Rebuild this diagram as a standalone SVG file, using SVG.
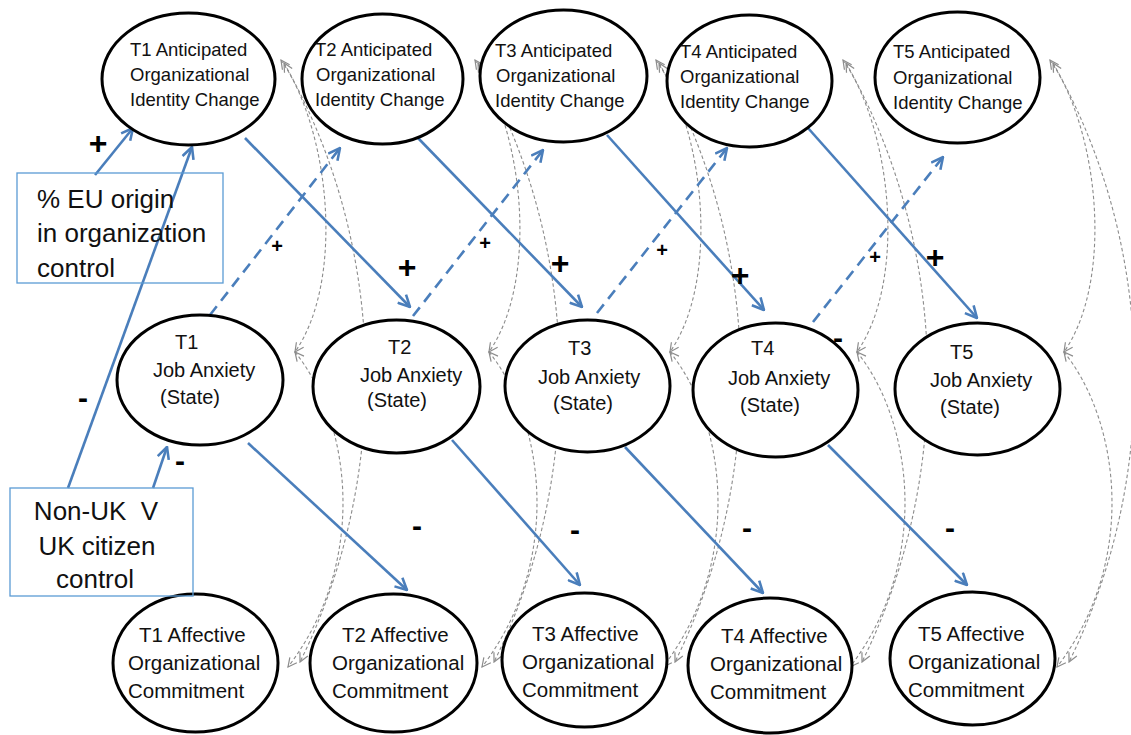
<svg xmlns="http://www.w3.org/2000/svg" width="1131" height="735" viewBox="0 0 1131 735">
<style>
.corr{fill:none;stroke:#8c8c8c;stroke-width:1.1;stroke-dasharray:3.5,2.5;marker-start:url(#ag);marker-end:url(#ag)}
.path{fill:none;stroke:#4a7ebb;stroke-width:2.6;marker-end:url(#ab)}
.dash{stroke-dasharray:11,7}
.node ellipse{fill:#fff;stroke:#000;stroke-width:3}
.box rect{fill:none;stroke:#5b9bd5;stroke-width:1.3}
.t{font-family:"Liberation Sans",Arial,sans-serif;fill:#111}
.top{font-size:18.5px}
.mid{font-size:20px}
.bot{font-size:20.5px}
.bx{font-size:26px}
.sg{font-family:"Liberation Sans",Arial,sans-serif;font-weight:bold;fill:#000;text-anchor:middle}
</style>
<defs>
<marker id="ab" viewBox="0 0 12 12" refX="11" refY="6" markerWidth="14" markerHeight="14" markerUnits="userSpaceOnUse" orient="auto"><path d="M1,1 L11,6 L1,11" fill="none" stroke="#4a7ebb" stroke-width="2.2"/></marker>
<marker id="ag" viewBox="0 0 10 10" refX="9" refY="5" markerWidth="11" markerHeight="11" markerUnits="userSpaceOnUse" orient="auto-start-reverse"><path d="M1,1 L9,5 L1,9" fill="none" stroke="#8c8c8c" stroke-width="1.1"/></marker>
</defs>
<rect width="1131" height="735" fill="#fff"/>

<g id="connectors">
<!-- column 1 correlations -->
<path class="corr" d="M281,60 C330,130 345,280 295,352"/>
<path class="corr" d="M284,63 C390,250 390,480 300,662"/>
<path class="corr" d="M295,352 C350,420 370,560 288,667"/>
<!-- column 2 -->
<path class="corr" d="M475,60 C524,130 539,280 489,352"/>
<path class="corr" d="M478,63 C584,250 584,480 494,662"/>
<path class="corr" d="M489,352 C544,420 564,560 482,667"/>
<!-- column 3 -->
<path class="corr" d="M656,60 C705,130 720,280 670,352"/>
<path class="corr" d="M659,63 C765,250 765,480 675,662"/>
<path class="corr" d="M670,352 C725,420 745,560 663,667"/>
<!-- column 4 -->
<path class="corr" d="M843,60 C892,130 907,280 857,352"/>
<path class="corr" d="M846,63 C952,250 952,480 862,662"/>
<path class="corr" d="M857,352 C912,420 932,560 850,667"/>
<!-- column 5 -->
<path class="corr" d="M1050,60 C1099,130 1114,280 1064,352"/>
<path class="corr" d="M1053,63 C1159,250 1159,480 1069,662"/>
<path class="corr" d="M1064,352 C1119,420 1139,560 1057,667"/>

<!-- structural paths -->
<line class="path" x1="95" y1="175" x2="133" y2="128"/>
<line class="path" x1="68" y1="488" x2="192" y2="147"/>
<line class="path" x1="153" y1="488" x2="167" y2="447"/>
<line class="path" x1="245" y1="138" x2="410" y2="307"/>
<line class="path" x1="418" y1="138" x2="582" y2="307"/>
<line class="path" x1="607" y1="135" x2="764" y2="310"/>
<line class="path" x1="808" y1="128" x2="977" y2="318"/>
<line class="path dash" x1="210" y1="315" x2="340" y2="148"/>
<line class="path dash" x1="413" y1="316" x2="543" y2="150"/>
<line class="path dash" x1="597" y1="313" x2="727" y2="148"/>
<line class="path dash" x1="813" y1="322" x2="943" y2="157"/>
<line class="path" x1="248" y1="443" x2="407" y2="590"/>
<line class="path" x1="452" y1="440" x2="580" y2="585"/>
<line class="path" x1="625" y1="447" x2="763" y2="593"/>
<line class="path" x1="828" y1="445" x2="967" y2="585"/>
</g>

<g id="aoic1" class="node"><ellipse cx="188.5" cy="79" rx="86.5" ry="66"/><text class="t top"><tspan x="130" y="56">T1 Anticipated</tspan><tspan x="130" y="81">Organizational</tspan><tspan x="130" y="106">Identity Change</tspan></text></g>
<g id="aoic2" class="node"><ellipse cx="382.5" cy="79" rx="80.5" ry="65"/><text class="t top"><tspan x="315" y="56">T2 Anticipated</tspan><tspan x="316" y="81">Organizational</tspan><tspan x="315" y="106">Identity Change</tspan></text></g>
<g id="aoic3" class="node"><ellipse cx="563.5" cy="76" rx="83.5" ry="66"/><text class="t top"><tspan x="495" y="57">T3 Anticipated</tspan><tspan x="496" y="82">Organizational</tspan><tspan x="495" y="107">Identity Change</tspan></text></g>
<g id="aoic4" class="node"><ellipse cx="749.5" cy="81" rx="82.5" ry="66"/><text class="t top"><tspan x="680" y="58">T4 Anticipated</tspan><tspan x="680" y="83">Organizational</tspan><tspan x="680" y="108">Identity Change</tspan></text></g>
<g id="aoic5" class="node"><ellipse cx="957.5" cy="77.5" rx="82.5" ry="65.5"/><text class="t top"><tspan x="893" y="58">T5 Anticipated</tspan><tspan x="893" y="84">Organizational</tspan><tspan x="893" y="109">Identity Change</tspan></text></g>

<g id="anx1" class="node"><ellipse cx="200" cy="380" rx="83" ry="65"/><text class="t mid"><tspan x="175" y="349">T1</tspan><tspan x="153" y="377">Job Anxiety</tspan><tspan x="160" y="404">(State)</tspan></text></g>
<g id="anx2" class="node"><ellipse cx="396.5" cy="386.5" rx="83.5" ry="66.5"/><text class="t mid"><tspan x="388" y="354">T2</tspan><tspan x="360" y="382">Job Anxiety</tspan><tspan x="367" y="407">(State)</tspan></text></g>
<g id="anx3" class="node"><ellipse cx="587.5" cy="386" rx="82.5" ry="66"/><text class="t mid"><tspan x="568" y="355">T3</tspan><tspan x="538" y="384">Job Anxiety</tspan><tspan x="553" y="410">(State)</tspan></text></g>
<g id="anx4" class="node"><ellipse cx="775.5" cy="390" rx="82.5" ry="67"/><text class="t mid"><tspan x="751" y="355">T4</tspan><tspan x="728" y="385">Job Anxiety</tspan><tspan x="740" y="412">(State)</tspan></text></g>
<g id="anx5" class="node"><ellipse cx="977.5" cy="389" rx="82.5" ry="66"/><text class="t mid"><tspan x="950" y="359">T5</tspan><tspan x="930" y="387">Job Anxiety</tspan><tspan x="940" y="414">(State)</tspan></text></g>

<g id="com1" class="node"><ellipse cx="195.5" cy="663" rx="82.5" ry="69"/><text class="t bot"><tspan x="139" y="642">T1 Affective</tspan><tspan x="128" y="670">Organizational</tspan><tspan x="128" y="698">Commitment</tspan></text></g>
<g id="com2" class="node"><ellipse cx="393.5" cy="663" rx="83.5" ry="69"/><text class="t bot"><tspan x="342" y="642">T2 Affective</tspan><tspan x="332" y="670">Organizational</tspan><tspan x="332" y="698">Commitment</tspan></text></g>
<g id="com3" class="node"><ellipse cx="584.5" cy="660" rx="82.5" ry="67"/><text class="t bot"><tspan x="532" y="641">T3 Affective</tspan><tspan x="522" y="669">Organizational</tspan><tspan x="522" y="697">Commitment</tspan></text></g>
<g id="com4" class="node"><ellipse cx="770" cy="665.5" rx="82" ry="67.5"/><text class="t bot"><tspan x="721" y="643">T4 Affective</tspan><tspan x="710" y="671">Organizational</tspan><tspan x="710" y="699">Commitment</tspan></text></g>
<g id="com5" class="node"><ellipse cx="972.5" cy="658.5" rx="82.5" ry="66.5"/><text class="t bot"><tspan x="918" y="641">T5 Affective</tspan><tspan x="908" y="669">Organizational</tspan><tspan x="908" y="697">Commitment</tspan></text></g>

<g id="ctrl-eu" class="box"><rect x="17" y="173" width="206" height="110"/><text class="t bx"><tspan x="37" y="208">% EU origin</tspan><tspan x="37" y="242">in organization</tspan><tspan x="37" y="277">control</tspan></text></g>
<g id="ctrl-uk" class="box"><rect x="10" y="488" width="183" height="108"/><text class="t bx" text-anchor="middle" xml:space="preserve"><tspan x="96" y="520">Non-UK  V</tspan><tspan x="97" y="555">UK citizen</tspan><tspan x="95" y="588">control</tspan></text></g>

<g id="signs">
<text class="sg" font-size="32" x="98" y="154">+</text>
<text class="sg" font-size="32" x="407" y="278">+</text>
<text class="sg" font-size="32" x="560" y="274">+</text>
<text class="sg" font-size="32" x="740" y="286">+</text>
<text class="sg" font-size="32" x="935" y="268">+</text>
<text class="sg" font-size="20" x="277" y="253">+</text>
<text class="sg" font-size="20" x="485" y="250">+</text>
<text class="sg" font-size="20" x="662" y="257">+</text>
<text class="sg" font-size="20" x="875" y="264">+</text>
<text class="sg" font-size="30" x="83" y="408">-</text>
<text class="sg" font-size="30" x="180" y="471">-</text>
<text class="sg" font-size="30" x="417" y="536">-</text>
<text class="sg" font-size="30" x="575" y="540">-</text>
<text class="sg" font-size="30" x="747" y="538">-</text>
<text class="sg" font-size="30" x="950" y="538">-</text>
<text class="sg" font-size="30" x="838" y="348">-</text>
</g>
</svg>
